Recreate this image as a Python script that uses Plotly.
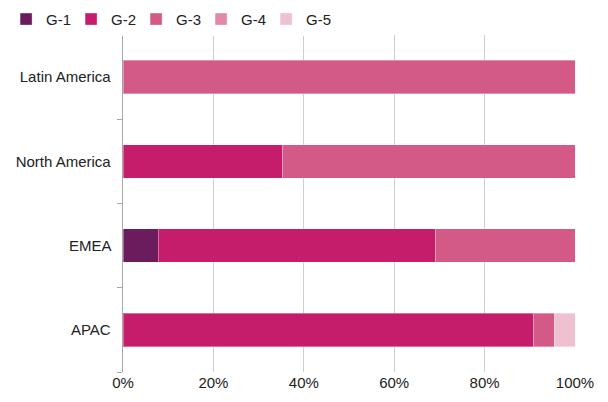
import plotly.graph_objects as go

regions = ["APAC", "EMEA", "North America", "Latin America"]
series_names = ["G-1", "G-2", "G-3", "G-4", "G-5"]
g1 = [0.0, 7.8, 0.0, 0.0]
g2 = [90.9, 61.4, 35.3, 0.0]
g3 = [4.5, 30.8, 64.7, 100.0]
g4 = [0.0, 0.0, 0.0, 0.0]
g5 = [4.6, 0.0, 0.0, 0.0]
colors = ["#6b1c5d", "#c51d6b", "#d35a87", "#e08aa8", "#efc0d0"]
x_ticks = [0, 20, 40, 60, 80, 100]
x_tick_labels = ["0%", "20%", "40%", "60%", "80%", "100%"]

fig = go.Figure()
for name, vals, col in zip(series_names, [g1, g2, g3, g4, g5], colors):
    fig.add_trace(go.Bar(
        y=regions, x=vals, name=name, orientation="h",
        marker=dict(color=col, line=dict(color="rgba(255,255,255,0.35)", width=1)),
    ))

fig.update_layout(
    barmode="stack",
    bargap=0.6,
    width=608, height=402,
    margin=dict(l=123, r=33, t=35, b=30, autoexpand=False),
    paper_bgcolor="white", plot_bgcolor="white",
    font=dict(family="Arial, Liberation Sans, sans-serif", size=15, color="#222222"),
    legend=dict(orientation="h", xref="container", yref="container",
                x=0.01, y=0.993, xanchor="left", yanchor="top",
                entrywidth=20, entrywidthmode="pixels",
                font=dict(size=15), traceorder="normal",
                itemclick=False),
    showlegend=True,
)
fig.update_xaxes(
    range=[0, 100], tickmode="array", tickvals=x_ticks, ticktext=x_tick_labels,
    showgrid=True, gridcolor="#cfcfcf", gridwidth=1,
    zeroline=False, showline=False, ticks="",
    tickfont=dict(size=15),
)
fig.update_yaxes(
    type="category", categoryorder="array", categoryarray=regions,
    showline=True, linecolor="#a6a6a6", linewidth=1,
    ticks="outside", tickson="boundaries", ticklen=5, tickcolor="#a6a6a6",
    showgrid=False, ticksuffix="  ",
    tickfont=dict(size=15),
)

fig.write_html("out.html")
